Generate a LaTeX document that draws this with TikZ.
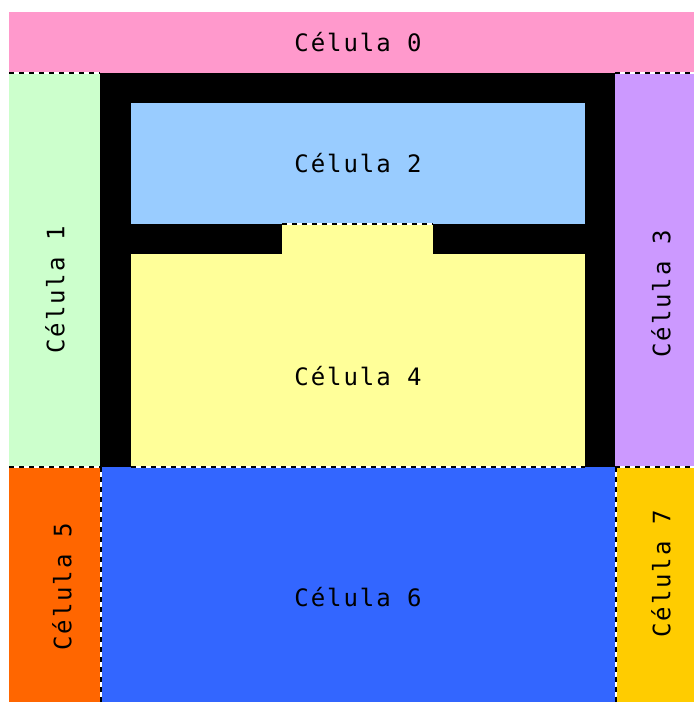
\documentclass[tikz,border=0pt]{standalone}
\usepackage{fontspec}
\newfontfamily\cellfont[LetterSpace=8]{DejaVu Sans Mono}
\usetikzlibrary{positioning}
\definecolor{pink0}{HTML}{FF99CC}
\definecolor{green1}{HTML}{CCFFCC}
\definecolor{blue2}{HTML}{99CCFF}
\definecolor{purple3}{HTML}{CC99FF}
\definecolor{yellow4}{HTML}{FFFF99}
\definecolor{orange5}{HTML}{FF6600}
\definecolor{blue6}{HTML}{3366FF}
\definecolor{gold7}{HTML}{FFCC00}
\begin{document}
\begin{tikzpicture}[x=1pt, y=-1pt, every node/.style={font=\cellfont\fontsize{24}{28}\selectfont, inner sep=0pt},
  border/.style={line width=2pt, white, postaction={draw=black, dash pattern=on 5pt off 5pt}}]
\useasboundingbox (0,0) rectangle (694,702);
% celdas
\fill[pink0] (9,12) rectangle (694,72.5);
\fill[green1] (9,72.5) rectangle (100,466.5);
\fill[black] (100,72.5) rectangle (615,466.5);
\fill[blue2] (131,103) rectangle (585,224);
\fill[yellow4] (131,254) rectangle (585,466.5);
\fill[yellow4] (282,224) rectangle (433,254);
\fill[purple3] (615,72.5) rectangle (694,466.5);
\fill[orange5] (9,466.5) rectangle (100.5,702);
\fill[blue6] (100.5,466.5) rectangle (615.5,702);
\fill[gold7] (615.5,466.5) rectangle (694,702);
% fronteras
\draw[border] (9,72.5) -- (100,72.5);
\draw[border] (615,72.5) -- (694,72.5);
\draw[border] (282,224) -- (433,224);
\draw[border] (9,466.5) -- (100,466.5);
\draw[border] (131,466.5) -- (585,466.5);
\draw[border] (615,466.5) -- (694,466.5);
\draw[border] (100.5,466.5) -- (100.5,702);
\draw[border] (615.5,466.5) -- (615.5,702);
% etiquetas
\node (c0) at (358,42) {Célula 0};
\node[rotate=90] (c1) at (55,290) {Célula 1};
\node (c2) at (358,163) {Célula 2};
\node[rotate=90] (c3) at (661,294) {Célula 3};
\node (c4) at (358,376) {Célula 4};
\node[rotate=90] (c5) at (62,587) {Célula 5};
\node (c6) at (358,597) {Célula 6};
\node[rotate=90] (c7) at (661,574) {Célula 7};
\end{tikzpicture}
\end{document}
